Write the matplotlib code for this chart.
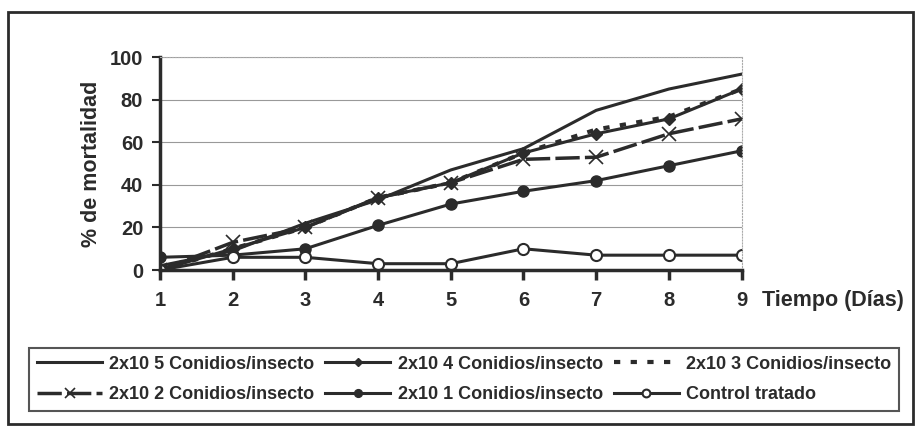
import numpy as np
import matplotlib.pyplot as plt
from matplotlib.patches import Rectangle

plt.rcParams['font.family'] = ['Liberation Sans', 'DejaVu Sans']
plt.rcParams['font.weight'] = 'bold'

# Datos
dias = [1, 2, 3, 4, 5, 6, 7, 8, 9]
c_2x10_5 = [2, 9, 22, 33, 47, 57, 75, 85, 92]
c_2x10_4 = [0, 10, 20, 34, 41, 55, 64, 71, 85]
c_2x10_3 = [0, 10, 20, 34, 41, 55, 66, 72, 85]
c_2x10_2 = [0, 13, 20, 34, 41, 52, 53, 64, 71]
c_2x10_1 = [6, 7, 10, 21, 31, 37, 42, 49, 56]
control = [0, 6, 6, 3, 3, 10, 7, 7, 7]

etiquetas = ["2x10 5 Conidios/insecto", "2x10 4 Conidios/insecto",
             "2x10 3 Conidios/insecto", "2x10 2 Conidios/insecto",
             "2x10 1 Conidios/insecto", "Control tratado"]

col = '#2b2b2b'

fig = plt.figure(figsize=(9.19, 4.26), dpi=100)
ax = fig.add_axes([0.174, 0.366, 0.633, 0.500])

h1, = ax.plot(dias, c_2x10_5, color=col, lw=2.2)
h2, = ax.plot(dias, c_2x10_4, color=col, lw=2.2, marker='D', ms=6)
h3, = ax.plot(dias, c_2x10_3, color=col, lw=3, ls=(0, (1.5, 2.5)))
h4, = ax.plot(dias, c_2x10_2, color=col, lw=2.5, ls=(0, (7, 1.5)),
              marker='x', ms=10, mew=1.2)
h5, = ax.plot(dias, c_2x10_1, color=col, lw=2.2, marker='o', ms=8)
h6, = ax.plot(dias, control, color=col, lw=2.2, marker='o', ms=8,
              mfc='white', mew=1.5)

ax.set_xlim(1, 9)
ax.set_ylim(0, 100)
ax.set_xticks(dias)
ax.set_yticks(range(0, 101, 20))
ax.grid(axis='y', color='#999999', lw=0.8)
ax.set_axisbelow(True)
for s in ['top', 'right']:
    ax.spines[s].set_color('#aaaaaa')
    ax.spines[s].set_linestyle(':')
    ax.spines[s].set_linewidth(0.8)
for s in ['left', 'bottom']:
    ax.spines[s].set_color(col)
    ax.spines[s].set_linewidth(2.5)
ax.tick_params(axis='x', length=7, width=2.5, color=col, labelsize=14.5,
               pad=8, labelcolor=col)
ax.tick_params(axis='y', length=6, width=1.5, color=col, labelsize=14.5,
               pad=6, labelcolor=col)
for lab in ax.get_xticklabels() + ax.get_yticklabels():
    lab.set_fontweight('bold')

ax.set_ylabel("% de mortalidad", fontsize=15.5, fontweight='bold', color=col,
              labelpad=6)
fig.text(0.829, 0.295, "Tiempo (Días)", fontsize=15.5, fontweight='bold',
         color=col, va='center', ha='left')

# orden para que la leyenda se llene por filas
orden = [0, 3, 1, 4, 2, 5]
handles = [h1, h2, h3, h4, h5, h6]
leg = fig.legend([handles[i] for i in orden], [etiquetas[i] for i in orden],
                 ncol=3, loc='center', bbox_to_anchor=(0.505, 0.109),
                 frameon=True, fancybox=False, edgecolor=col,
                 handlelength=3.6, handletextpad=0.4, columnspacing=0.6,
                 labelspacing=0.75, borderpad=0.45, markerscale=0.7,
                 prop={'size': 13, 'weight': 'bold'})
leg.get_frame().set_linewidth(1.5)
for t in leg.get_texts():
    t.set_color(col)

fig.add_artist(Rectangle((0.009, 0.005), 0.985, 0.966, transform=fig.transFigure,
                         fill=False, edgecolor=col, lw=2))

fig.savefig("out.png", dpi=100)
